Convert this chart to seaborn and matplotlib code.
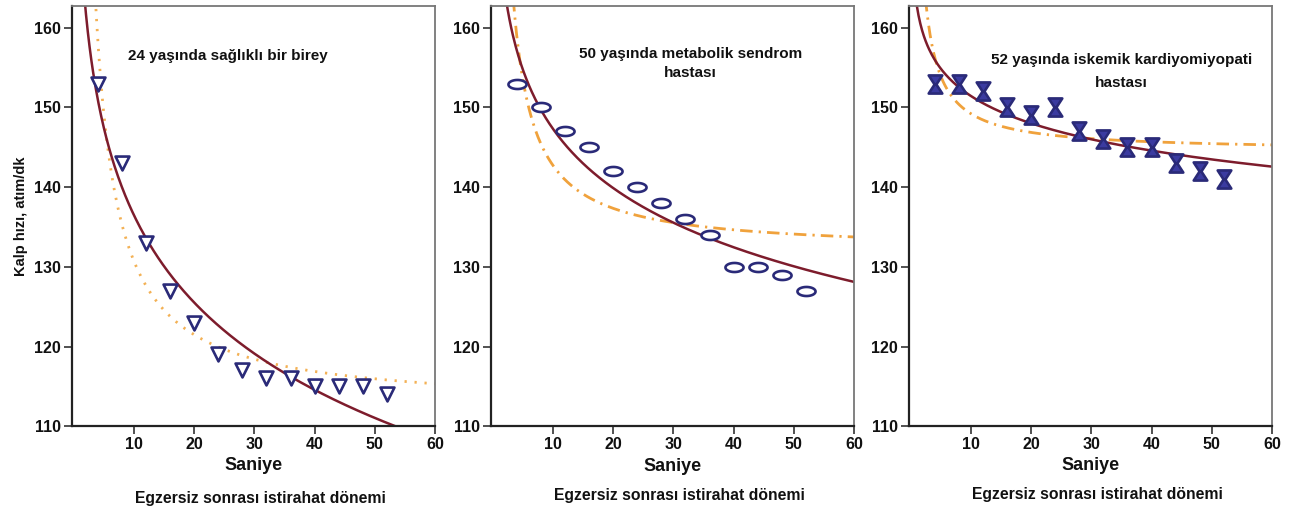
import numpy as np
import matplotlib
matplotlib.use("Agg")
import matplotlib.pyplot as plt
from matplotlib.path import Path
import seaborn as sns

# Ölçüm zamanları (saniye) ve kalp hızı değerleri
seconds = [4, 8, 12, 16, 20, 24, 28, 32, 36, 40, 44, 48, 52]
hr_healthy = [153, 143, 133, 127, 123, 119, 117, 116, 116, 115, 115, 115, 114]
hr_metabolic = [153, 150, 147, 145, 142, 140, 138, 136, 134, 130, 130, 129, 127]
hr_ischemic = [153, 153, 152, 150, 149, 150, 147, 146, 145, 145, 143, 142, 141]

titles = ["24 yaşında sağlıklı bir birey",
          "50 yaşında metabolik sendrom\nhastası",
          "52 yaşında iskemik kardiyomiyopati\nhastası"]
xticks = [10, 20, 30, 40, 50, 60]
yticks = [110, 120, 130, 140, 150, 160]

NAVY = "#2a2a78"
MAROON = "#7d1c2c"
ORANGE = "#f0a23c"

sns.set_style("white")
plt.rcParams["font.family"] = ["Liberation Sans", "DejaVu Sans"]
plt.rcParams["font.weight"] = "bold"

# custom markers
th = np.linspace(0, 2 * np.pi, 40)
ellipse = Path(np.column_stack([np.cos(th), 0.5 * np.sin(th)]), closed=True)
hourglass = Path([(-0.75, 1), (0.75, 1), (0.1, 0), (0.75, -1), (-0.75, -1), (-0.1, 0), (-0.75, 1)],
                 closed=True)

fig = plt.figure(figsize=(12.92, 5.16), dpi=100)
lefts = [0.0557, 0.380, 0.7035]
axes = [fig.add_axes([l, 0.174, 0.281, 0.814]) for l in lefts]

panels = [
    (hr_healthy, "v", 100, "white", (0, (0.8, 2.8)), "#f3b155"),
    (hr_metabolic, ellipse, 170, "white", (0, (4.5, 2.2, 0.8, 2.2)), ORANGE),
    (hr_ischemic, hourglass, 170, "#3b3ba0", (0, (4.5, 2.2, 0.8, 2.2)), ORANGE),
]
text_pos = [(25.6, 156.4), (32.8, 155.5), (35.0, 154.5)]
text_ls = [1.45, 1.45, 1.9]
label_y = [(-0.093, -0.172), (-0.095, -0.165), (-0.093, -0.162)]

x = np.array(seconds, dtype=float)
grid = np.linspace(1, 60, 400)

for i, (ax, (hr, mk, size, fc, ls, oc)) in enumerate(zip(axes, panels)):
    y = np.array(hr, dtype=float)
    ax.set_xlim(-0.3, 60)
    ax.set_ylim(110, 162.7)

    # logaritmik ve ters orantılı uyum eğrileri
    b_log, a_log = np.polyfit(np.log(x), y, 1)
    b_inv, a_inv = np.polyfit(1 / x, y, 1)
    sns.lineplot(x=grid, y=a_inv + b_inv / grid, ax=ax, color=oc, lw=2.0,
                 linestyle=ls, sort=False, estimator=None)
    sns.lineplot(x=grid, y=a_log + b_log * np.log(grid), ax=ax, color=MAROON, lw=1.8,
                 sort=False, estimator=None)
    sns.scatterplot(x=x, y=y, ax=ax, marker=mk, s=size, color=fc, edgecolor=NAVY,
                    linewidth=1.9, zorder=5)

    ax.text(text_pos[i][0], text_pos[i][1], titles[i], ha="center", va="center",
            fontsize=11, fontweight="bold", linespacing=text_ls[i], color="#111111")

    ax.set_xticks(xticks)
    ax.set_yticks(yticks)
    ax.tick_params(direction="out", length=6, width=1.2, color="#333333",
                   labelsize=11.5, labelcolor="#111111", pad=2, left=True, bottom=True)
    for lab in ax.get_xticklabels() + ax.get_yticklabels():
        lab.set_fontweight("bold")
    for side in ["left", "bottom"]:
        ax.spines[side].set_color("#222222")
        ax.spines[side].set_linewidth(1.6)
    for side in ["top", "right"]:
        ax.spines[side].set_color("#777777")
        ax.spines[side].set_linewidth(1.3)

    ax.set_xlabel("")
    ax.set_ylabel("")
    ax.text(0.5, label_y[i][0], "Saniye", transform=ax.transAxes, ha="center", va="center",
            fontsize=13, fontweight="bold", color="#111111")
    ax.text(0.52, label_y[i][1], "Egzersiz sonrası istirahat dönemi", transform=ax.transAxes,
            ha="center", va="center", fontsize=11.3, fontweight="bold", color="#111111")

axes[0].set_ylabel("Kalp hızı, atım/dk", fontsize=10.5, fontweight="bold", labelpad=4,
                   color="#111111")

fig.savefig("out.png", dpi=100, facecolor="white")
